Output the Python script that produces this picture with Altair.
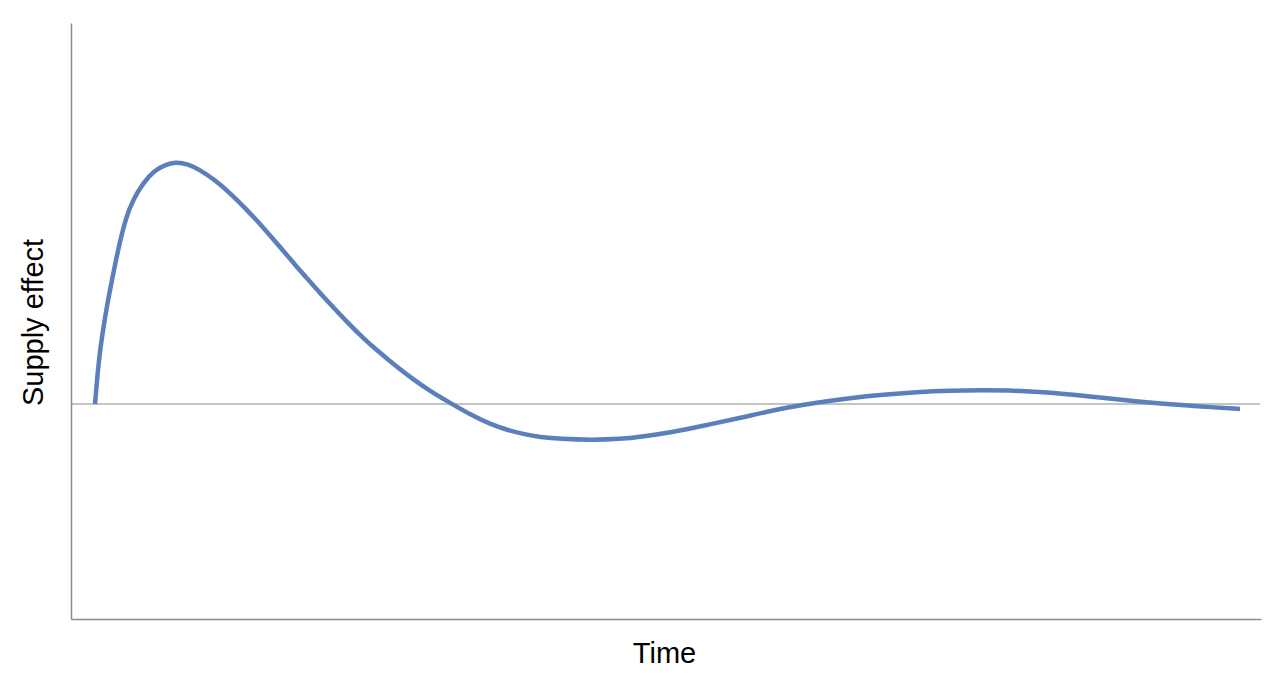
import altair as alt
import pandas as pd

time_vals = [24, 26, 29, 33, 37, 42, 47, 55, 62, 72, 84, 94, 104, 117, 129, 144, 159, 174,
             192, 209, 226, 242, 259, 276, 292, 309, 326, 343, 359, 381,
             402, 419, 436, 454, 469, 489, 522, 549, 569, 602, 636, 669, 712, 746,
             779, 812, 846, 879, 912, 939, 962, 996, 1029, 1062, 1096, 1129, 1169]
effect_vals = [0, 24, 54, 80, 104, 129, 154, 187, 204, 221, 234, 239, 242, 240, 234, 224, 211, 196,
               177, 157, 137, 119, 100, 82, 66, 51, 37, 24, 13, 0,
               -12, -20, -26, -30.5, -33, -35, -36, -35, -33, -28, -21, -14, -4, 1.5,
               6, 9.5, 12, 13.5, 14, 13.5, 12.5, 10, 6.5, 3, 0, -2.5, -5]

df = pd.DataFrame({"t": time_vals, "v": effect_vals})

W, H = 1190, 596

xscale = alt.Scale(domain=[0, 1190], nice=False, zero=False)
yscale = alt.Scale(domain=[-215, 381], nice=False, zero=False)

line = alt.Chart(df).mark_line(color="#5b7fbb", strokeWidth=4.5, interpolate="basis",
                               strokeCap="butt").encode(
    x=alt.X("t:Q", scale=xscale,
            axis=alt.Axis(title="Time", labels=False, ticks=False, grid=False,
                          domainColor="#8a8a8a", domainWidth=1.5,
                          titleFontSize=29, titleFontWeight="normal", titleFont="Liberation Sans",
                          titleColor="#000000", titleX=593, titleY=34,
                          titleBaseline="middle", titleAlign="center")),
    y=alt.Y("v:Q", scale=yscale,
            axis=alt.Axis(title="Supply effect", labels=False, ticks=False, grid=False,
                          domainColor="#8a8a8a", domainWidth=1.5,
                          titleFontSize=29, titleFontWeight="normal", titleFont="Liberation Sans",
                          titleColor="#000000", titleX=-38, titleY=299, titleAngle=-90,
                          titleBaseline="middle", titleAlign="center")),
)

zero = alt.Chart(pd.DataFrame({"z": [0]})).mark_rule(color="#8a8a8a", strokeWidth=1.2).encode(
    y=alt.Y("z:Q", scale=yscale),
    x=alt.value(0), x2=alt.value(1189),
)

chart = alt.layer(zero, line).properties(
    width=W, height=H,
    autosize=alt.AutoSizeParams(type="none"),
    padding={"left": 63, "top": 15, "right": 12, "bottom": 48},
    background="white",
).configure_view(strokeWidth=0, stroke=None)

chart.save("out.html", embed_options={"renderer": "svg", "actions": False})
